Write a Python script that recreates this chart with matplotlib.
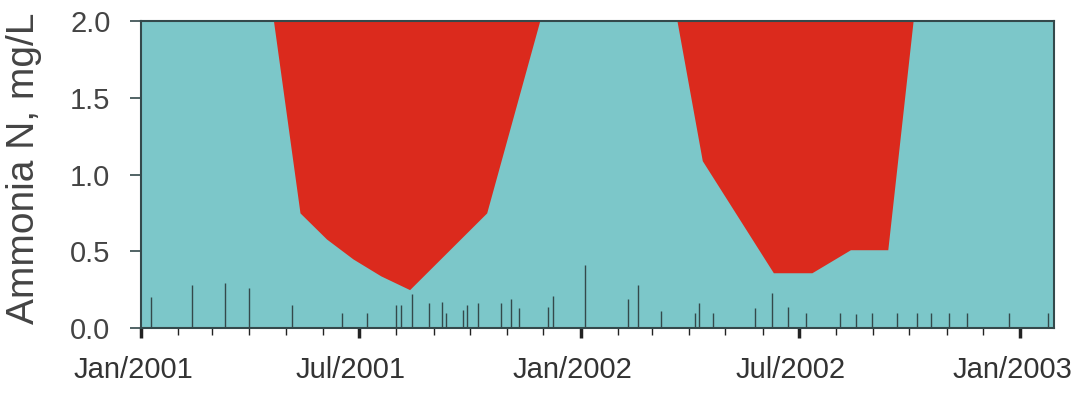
import matplotlib
matplotlib.use("Agg")
import matplotlib.pyplot as plt
import matplotlib.dates as mdates
import matplotlib.transforms as mtransforms
import numpy as np
import pandas as pd

plt.rcParams['font.family'] = ['Liberation Sans', 'DejaVu Sans']

# red "exceedance" envelopes (boundary of red area, filled up to 2.0)
env1_dates = ['2001-04-21', '2001-05-13', '2001-06-04', '2001-06-26', '2001-07-19',
              '2001-08-12', '2001-10-15', '2001-11-28']
env1_vals = [2.0, 0.75, 0.58, 0.45, 0.34, 0.25, 0.75, 2.0]
env2_dates = ['2002-03-22', '2002-04-12', '2002-06-10', '2002-07-12', '2002-08-13',
              '2002-09-13', '2002-10-04']
env2_vals = [2.0, 1.09, 0.36, 0.36, 0.51, 0.51, 2.0]

# measured ammonia samples
sample_dates = ['2001-01-09', '2001-02-12', '2001-03-12', '2001-04-01', '2001-05-06',
                '2001-06-17', '2001-07-08', '2001-08-01', '2001-08-05', '2001-08-14',
                '2001-08-28', '2001-09-08', '2001-09-11', '2001-09-25', '2001-09-29',
                '2001-10-08', '2001-10-27', '2001-11-04', '2001-11-11', '2001-12-05',
                '2001-12-09', '2002-01-05', '2002-02-09', '2002-02-18', '2002-03-09',
                '2002-04-06', '2002-04-09', '2002-04-21', '2002-05-26', '2002-06-09',
                '2002-06-22', '2002-07-07', '2002-08-04', '2002-08-18', '2002-08-31',
                '2002-09-21', '2002-10-07', '2002-10-19', '2002-11-03', '2002-11-18',
                '2002-12-23', '2003-01-24']
sample_vals = [0.20, 0.28, 0.29, 0.26, 0.15, 0.10, 0.10, 0.15, 0.15, 0.22,
               0.16, 0.17, 0.10, 0.12, 0.15, 0.16, 0.16, 0.19, 0.13, 0.14,
               0.21, 0.41, 0.19, 0.28, 0.11, 0.10, 0.16, 0.10, 0.13, 0.23,
               0.14, 0.10, 0.10, 0.09, 0.10, 0.10, 0.10, 0.10, 0.10, 0.10,
               0.10, 0.10]

y_ticks = [0.0, 0.5, 1.0, 1.5, 2.0]

teal = '#7cc7c9'
red = '#db2a1d'
dark = '#34494b'

fig = plt.figure(figsize=(10.73, 3.95), dpi=100)
ax = fig.add_axes([0.1314, 0.1696, 0.8509, 0.7772])
ax.set_facecolor(teal)

d1 = pd.to_datetime(env1_dates)
d2 = pd.to_datetime(env2_dates)
ax.fill_between(d1, env1_vals, 2.0, color=red, lw=0)
ax.fill_between(d2, env2_vals, 2.0, color=red, lw=0)

ax.vlines(pd.to_datetime(sample_dates), 0, sample_vals, color=dark, lw=1.0)

ax.set_xlim(pd.Timestamp('2001-01-01'), pd.Timestamp('2003-01-29'))
ax.set_ylim(0, 2.0)
ax.set_yticks(y_ticks)
ax.yaxis.set_major_formatter(matplotlib.ticker.FormatStrFormatter('%.1f'))

ax.xaxis.set_major_locator(mdates.MonthLocator(bymonth=[1, 7]))
ax.xaxis.set_major_formatter(mdates.DateFormatter('%b/%Y'))
ax.xaxis.set_minor_locator(mdates.MonthLocator())

for s in ax.spines.values():
    s.set_color(dark)
    s.set_linewidth(1.5)

ax.tick_params(axis='x', which='major', direction='out', length=7, width=2.5,
               color='#222222', labelsize=21, labelcolor='#333333', pad=13)
ax.tick_params(axis='x', which='minor', direction='out', length=5, width=1,
               color='#222222')
ax.tick_params(axis='y', direction='out', length=8, width=1.2, color=dark,
               labelsize=21, labelcolor='#444444', pad=14)

# labels sit a little left of their ticks in the original
shift = mtransforms.ScaledTranslation(-8 / 100, 0, fig.dpi_scale_trans)
for lab in ax.get_xticklabels():
    lab.set_transform(lab.get_transform() + shift)

ax.set_ylabel('Ammonia N, mg/L', fontsize=28, color='#444444')
ax.yaxis.set_label_coords(-0.108, 0.52)

fig.savefig('out.png', dpi=100)
